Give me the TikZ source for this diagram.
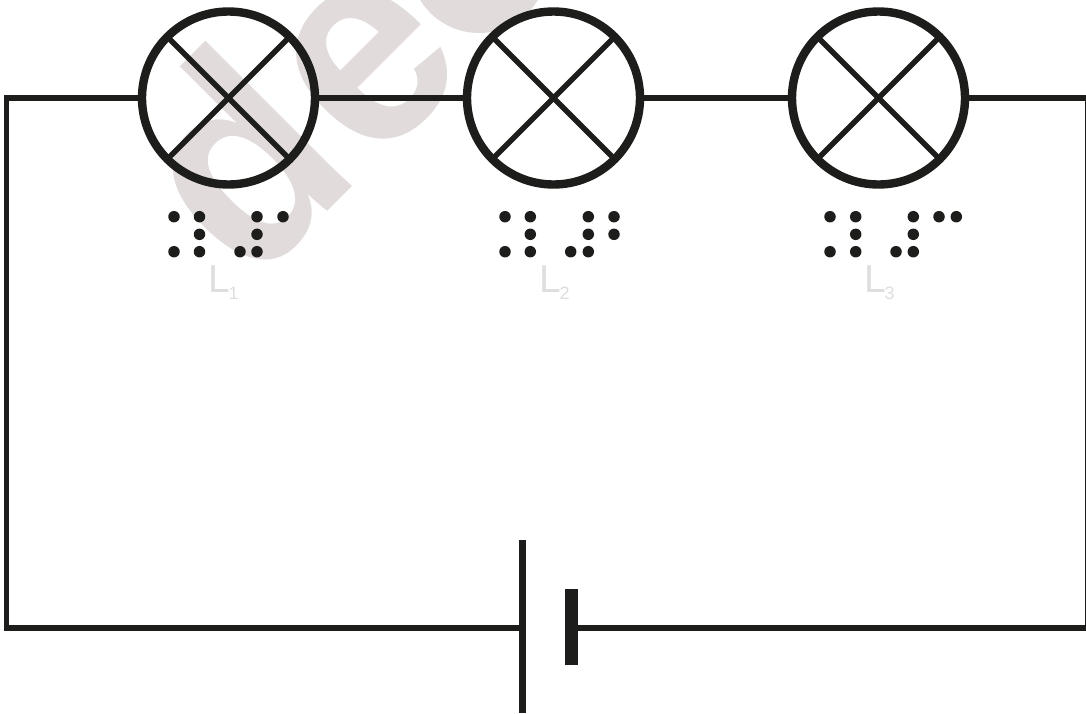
\documentclass[tikz,border=0pt]{standalone}
\usepackage{fontspec}
\setmainfont{Liberation Sans}
\definecolor{ink}{HTML}{1D1D1B}
\definecolor{markgrey}{HTML}{E1DCDB}
\definecolor{faint}{HTML}{DEDEDE}
\usetikzlibrary{positioning}
\tikzset{
  wire/.style={draw=ink,line width=5.7pt},
  lamp/.style={circle,draw=ink,fill=none,line width=8.4pt,minimum size=173pt,inner sep=0pt,outer sep=0pt},
  spoke/.style={draw=ink,line width=5.5pt},
  dot/.style={circle,fill=ink,minimum size=11.5pt,inner sep=0pt},
  plate/.style={fill=ink,inner sep=0pt,outer sep=0pt},
  wmark/.style={transform shape,rotate=45,xscale=.93,anchor=base,text=markgrey,inner sep=0pt,font=\fontsize{285}{285}\selectfont\bfseries},
  lamplabel/.style={text=faint,inner sep=0pt,font=\fontsize{39}{39}\selectfont},
  sublabel/.style={text=faint,inner sep=0pt,font=\fontsize{18}{18}\selectfont}
}
\begin{document}
\begin{tikzpicture}[x=1pt,y=-1pt]
  \useasboundingbox (0,0) rectangle (1086,713);
  \begin{scope}
    \clip (0,0) rectangle (1086,713);
    \node[wmark] (Wd) at (308,231) {d};
    \node[wmark] (We) at (424,118) {e};
    \fill[markgrey] (479,-36) circle (69pt);
  \end{scope}

  \node[lamp] (L1) at (228.5,98) {};
  \node[lamp] (L2) at (553.5,98) {};
  \node[lamp] (L3) at (878.5,98) {};
  \foreach \n in {L1,L2,L3} {
    \draw[spoke] (\n.45) -- (\n.225);
    \draw[spoke] (\n.135) -- (\n.315);
  }

  \coordinate (TL) at (6.6,98);
  \coordinate (BL) at (6.6,628);
  \coordinate (TR) at (1087.8,98);
  \coordinate (BR) at (1087.8,628);
  \node[plate,minimum width=7pt,minimum height=173pt] (P) at (522.5,626.5) {};
  \node[plate,minimum width=12.4pt,minimum height=76pt] (N) at (571.5,627) {};
  \coordinate (PW) at (P.west |- BL);
  \coordinate (NE) at (N.east |- BR);

  \draw[wire] (L1.west) -- (TL) -- (BL) -- (PW);
  \draw[wire] (L1.east) -- (L2.west);
  \draw[wire] (L2.east) -- (L3.west);
  \draw[wire] (L3.east) -- (TR) -- (BR) -- (NE);

  \foreach \x/\y in {174/216.7,199.5/216.7,199.5/234.3,174/251.7,199.5/251.7,
                     257/216.7,283/216.7,257/234.3,240/251.7,257/251.7,
                     505/216.7,530.3/216.7,530.3/234.3,505/251.7,530.3/251.7,
                     588.3/216.7,614/216.7,588.3/234.3,614/234.3,570.7/251.7,588.3/251.7,
                     830/216.7,855.7/216.7,855.7/234.3,830/251.7,855.7/251.7,
                     913.3/216.7,913.3/234.3,896/251.7,913.3/251.7,939/216.7,956.3/216.7}
    \node[dot] at (\x,\y) {};

  \foreach \n/\x in {1/208,2/539,3/864} {
    \node[lamplabel,anchor=base west] (T\n) at (\x,292) {L};
    \node[sublabel,anchor=base west] (S\n) at (\x+20.5,299) {\n};
  }
\end{tikzpicture}
\end{document}
